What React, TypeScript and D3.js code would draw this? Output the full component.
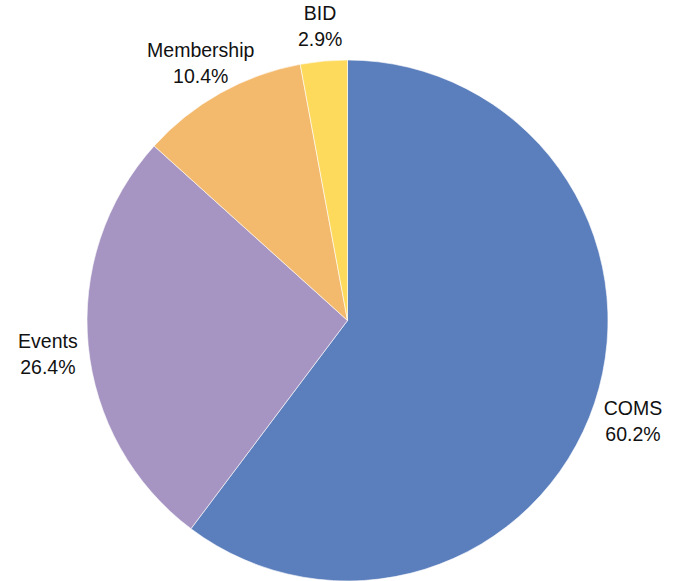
import React from "react";
import * as d3 from "d3";

const categories = ["COMS", "Events", "Membership", "BID"];
const values = [60.2, 26.4, 10.4, 2.9];
const colors = ["#5B7EBC", "#A695C2", "#F3BA6E", "#FDD95C"];

const W = 677;
const H = 581;
const cx = 347.5;
const cy = 320.5;
const R = 260.5;
const labelR = 301;

export default function App() {
  const pie = d3.pie<number>().sort(null).value((d) => d)(values);
  const arc = d3.arc<d3.PieArcDatum<number>>().innerRadius(0).outerRadius(R);
  const labelArc = d3.arc<d3.PieArcDatum<number>>().innerRadius(labelR).outerRadius(labelR);
  return (
    <svg
      width={W}
      height={H}
      style={{ position: "absolute", left: 0, top: 0, background: "#fff" }}
      fontFamily="'Liberation Sans', Arial, Helvetica, sans-serif"
    >
      <g transform={`translate(${cx},${cy})`}>
        {pie.map((p, i) => (
          <path key={i} d={arc(p) || ""} fill={colors[i]} stroke="#ffffff" strokeWidth={0.6} />
        ))}
        {pie.map((p, i) => {
          const [x, y] = labelArc.centroid(p);
          return (
            <text key={"t" + i} x={x} y={y} textAnchor="middle" fontSize={19.5} fill="#111">
              <tspan x={x} dy="-0.05em">{categories[i]}</tspan>
              <tspan x={x} dy="1.33em">{values[i].toFixed(1)}%</tspan>
            </text>
          );
        })}
      </g>
    </svg>
  );
}
